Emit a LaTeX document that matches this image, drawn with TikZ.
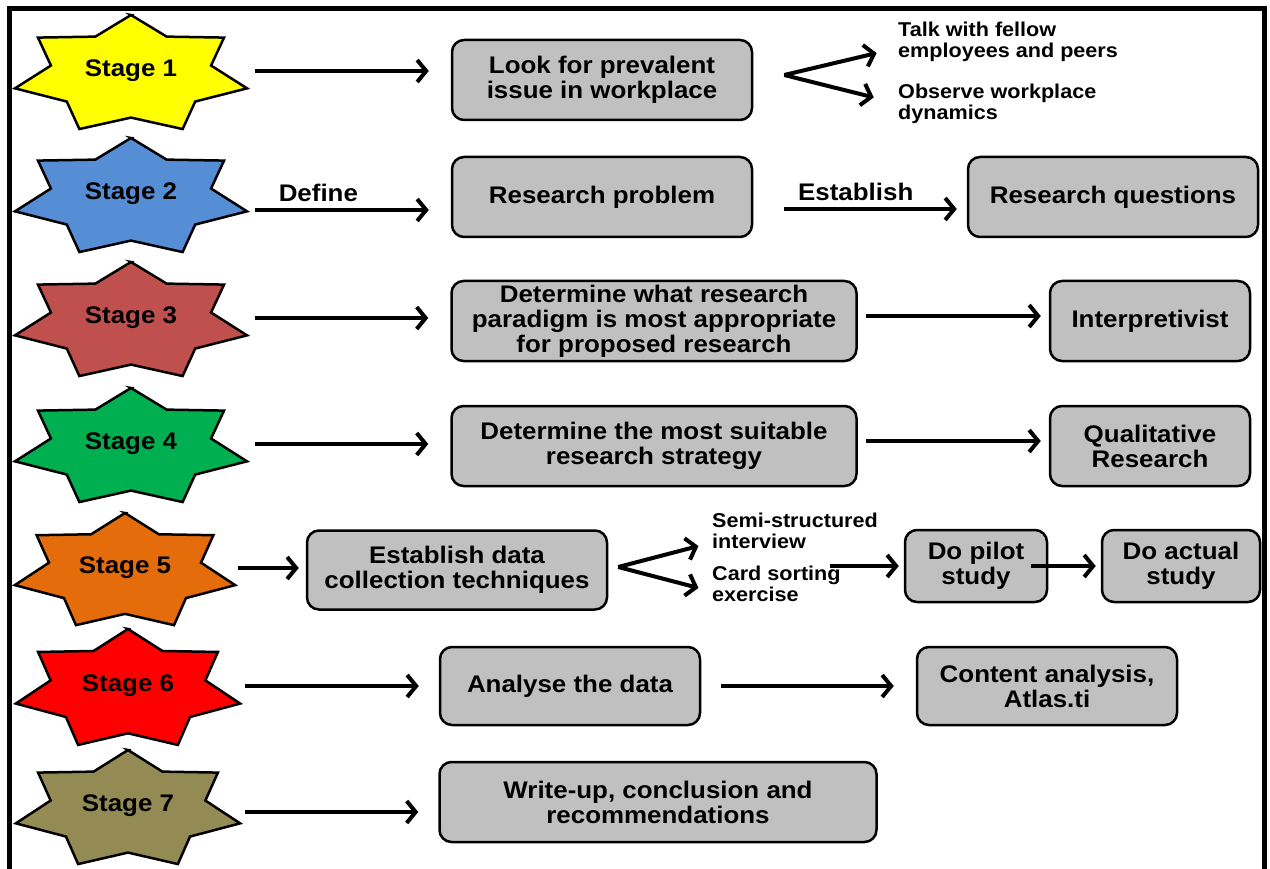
\documentclass[tikz,border=0pt]{standalone}
\usepackage{fontspec}
\setmainfont{Liberation Sans}[FakeStretch=1.08]
\usetikzlibrary{arrows.meta}

\definecolor{boxgray}{HTML}{C0C0C0}
\definecolor{stage1}{HTML}{FFFF00}
\definecolor{stage2}{HTML}{558ED5}
\definecolor{stage3}{HTML}{C0504D}
\definecolor{stage4}{HTML}{00B050}
\definecolor{stage5}{HTML}{E46C0A}
\definecolor{stage6}{HTML}{FF0000}
\definecolor{stage7}{HTML}{948A54}

\newcommand{\boxfont}{\fontsize{24}{25}\selectfont\bfseries}
\newcommand{\notefont}{\fontsize{20}{21}\selectfont\bfseries}

\tikzset{
  stepbox/.style={draw, line width=2.5pt, rounded corners=12pt, fill=boxgray,
    align=center, font=\boxfont, inner sep=2pt},
  stagelabel/.style={font=\boxfont, minimum height=20pt, inner sep=0pt},
  starline/.style={draw=black, line width=2.5pt},
  note/.style={font=\notefont, align=left, anchor=west, inner sep=0pt},
  flow/.style={line width=4pt, -{Straight Barb[length=9pt,width=22pt]}},
}

\begin{document}
\begin{tikzpicture}[x=1pt, y=-1pt]
  \useasboundingbox (0,0) rectangle (1270,869);

  % Frame
  \draw[line width=5pt] (9,869) -- (9,8.5) -- (1264,8.5) -- (1264,869);

  % Draw the stage stars
  \foreach \n/\cx/\cy/\rx/\ry/\col in {1/131/75/119/60/stage1, 2/131/198/119/60/stage2,
      3/131/322/119/60/stage3, 4/131/448/119/60/stage4, 5/125/572/113/59/stage5,
      6/128/690/115/61/stage6, 7/128/810/115/60/stage7} {
    \draw[starline, fill=\col, shift={(\cx,\cy)}] (270:{\rx} and {\ry})
      \foreach \k in {0,...,6} {
        -- ({295.714+\k*51.429}:{0.69*\rx} and {0.71*\ry})
        -- ({321.429+\k*51.429}:{\rx} and {\ry})
      } -- cycle;
    \node[stagelabel, minimum width={2*\rx*1pt}] (s\n) at (\cx,\cy-4) {Stage \n};
  }

  % Draw the steps
  \node[stepbox, minimum width=300pt, minimum height=80pt] (b1) at (602,80) {Look for prevalent\\issue in workplace};
  \node[stepbox, minimum width=300pt, minimum height=80pt] (b2) at (602,197) {Research problem};
  \node[stepbox, minimum width=290pt, minimum height=80pt] (q2) at (1113,197) {Research questions};
  \node[stepbox, minimum width=405pt, minimum height=80pt] (b3) at (654,321) {Determine what research\\paradigm is most appropriate\\for proposed research};
  \node[stepbox, minimum width=200pt, minimum height=80pt] (p3) at (1150,321) {Interpretivist};
  \node[stepbox, minimum width=405pt, minimum height=80pt] (b4) at (654,446) {Determine the most suitable\\research strategy};
  \node[stepbox, minimum width=200pt, minimum height=80pt] (q4) at (1150,446) {Qualitative\\Research};
  \node[stepbox, minimum width=300pt, minimum height=79pt] (b5) at (457,570) {Establish data\\collection techniques};
  \node[stepbox, minimum width=142pt, minimum height=72pt] (pilot) at (976,566) {Do pilot\\study};
  \node[stepbox, minimum width=158pt, minimum height=72pt] (actual) at (1181,566) {Do actual\\study};
  \node[stepbox, minimum width=260pt, minimum height=78pt] (b6) at (570,686) {Analyse the data};
  \node[stepbox, minimum width=260pt, minimum height=78pt] (c6) at (1047,686) {Content analysis,\\Atlas.ti};
  \node[stepbox, minimum width=437pt, minimum height=80pt] (b7) at (658,802) {Write-up, conclusion and\\recommendations};

  % Side notes
  \node[note] (t1a) at (898,42) {Talk with fellow\\employees and peers};
  \node[note] (t1b) at (898,103.5) {Observe workplace\\dynamics};
  \node[note] (t5a) at (712,530.5) {Semi-structured\\interview};
  \node[note] (t5b) at (712,583.5) {Card sorting\\exercise};

  \coordinate (f1) at ([xshift=31pt,yshift=5pt]b1.east);
  \coordinate (f5) at ([xshift=10pt,yshift=3pt]b5.east);
  \coordinate (c5) at ([xshift=-11pt]t5b.east);

  % Connect the stages and steps
  \draw[flow, shorten <=5pt, shorten >=22pt] (s1.east) -- (s1.east -| b1.west);
  \draw[flow, shorten >=22pt] (f1) -- ([yshift=-6pt]t1a.west);
  \draw[flow, shorten >=25pt] (f1) -- (t1b.west);

  \draw[flow, shorten <=5pt, shorten >=22pt] ([yshift=-16pt]s2.east) -- ([yshift=-16pt]s2.east -| b2.west)
    node[above, pos=0.34, font=\boxfont, inner sep=6pt] (define) {Define};
  \draw[flow, shorten <=31pt, shorten >=10pt] ([yshift=-12pt]b2.east) -- ([yshift=-12pt]b2.east -| q2.west)
    node[above, pos=0.48, font=\boxfont, inner sep=6pt] (establish) {Establish};

  \draw[flow, shorten <=5pt, shorten >=22pt] (s3.east) -- (s3.east -| b3.west);
  \draw[flow, shorten <=8pt, shorten >=8pt] ([yshift=5pt]b3.east) -- ([yshift=5pt]b3.east -| p3.west);

  \draw[flow, shorten <=5pt, shorten >=22pt] (s4.east) -- (s4.east -| b4.west);
  \draw[flow, shorten <=8pt, shorten >=8pt] ([yshift=5pt]b4.east) -- ([yshift=5pt]b4.east -| q4.west);

  \draw[flow, shorten >=7pt] (s5.east) -- (s5.east -| b5.west);
  \draw[flow, shorten >=14pt] (f5) -- ([yshift=-12pt]t5a.west);
  \draw[flow, shorten >=14pt] (f5) -- ([yshift=-8pt]t5b.west);
  \draw[flow, shorten >=5pt] (c5 |- pilot.west) -- (pilot.west);
  \draw[flow, shorten >=5pt] ([xshift=-17pt]pilot.east) -- (actual.west);

  \draw[flow, shorten <=2pt, shorten >=20pt] (s6.east) -- (s6.east -| b6.west);
  \draw[flow, shorten <=20pt, shorten >=22pt] (b6.east) -- (c6.west);

  \draw[flow, shorten <=2pt, shorten >=20pt] ([yshift=-6pt]s7.east) -- ([yshift=-6pt]s7.east -| b7.west);
\end{tikzpicture}
\end{document}
